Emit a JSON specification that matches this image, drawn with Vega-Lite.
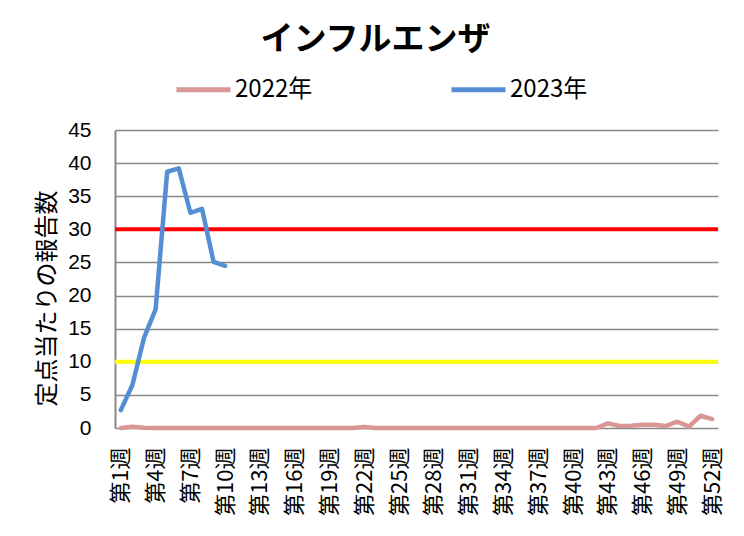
{
  "$schema": "https://vega.github.io/schema/vega-lite/v6.json",
  "width": 603,
  "height": 298,
  "autosize": "none",
  "padding": {"left": 115, "top": 130, "right": 26, "bottom": 108},
  "background": "white",
  "config": {
    "view": {"stroke": null},
    "font": "Liberation Sans, Noto Sans CJK JP",
    "axis": {"labelFont": "Liberation Sans, Noto Sans CJK JP", "titleFont": "Noto Sans CJK JP, Liberation Sans", "labelColor": "#000000", "titleColor": "#000000"},
    "axisY": {
      "grid": true,
      "gridColor": "#888888",
      "gridWidth": 1.5,
      "gridOpacity": 1,
      "domainColor": "#888888",
      "domainWidth": 2,
      "ticks": false,
      "labelFontSize": 21,
      "labelPadding": 24,
      "labelOverlap": false,
      "titleFontSize": 24,
      "titleFontWeight": "normal",
      "titlePadding": 8,
      "titleY": 168
    }
  },
  "title": {
    "text": "インフルエンザ",
    "font": "Noto Sans CJK JP",
    "fontSize": 33,
    "fontWeight": "bold",
    "color": "#000000",
    "anchor": "middle",
    "dx": -41,
    "dy": 17,
    "offset": 20
  },
  "datasets": {
    "flu": [
      {"week": 1, "year": "2022年", "value": 0},
      {"week": 2, "year": "2022年", "value": 0.2},
      {"week": 3, "year": "2022年", "value": 0.05},
      {"week": 4, "year": "2022年", "value": 0},
      {"week": 5, "year": "2022年", "value": 0},
      {"week": 6, "year": "2022年", "value": 0},
      {"week": 7, "year": "2022年", "value": 0},
      {"week": 8, "year": "2022年", "value": 0},
      {"week": 9, "year": "2022年", "value": 0},
      {"week": 10, "year": "2022年", "value": 0},
      {"week": 11, "year": "2022年", "value": 0},
      {"week": 12, "year": "2022年", "value": 0},
      {"week": 13, "year": "2022年", "value": 0},
      {"week": 14, "year": "2022年", "value": 0},
      {"week": 15, "year": "2022年", "value": 0},
      {"week": 16, "year": "2022年", "value": 0},
      {"week": 17, "year": "2022年", "value": 0},
      {"week": 18, "year": "2022年", "value": 0},
      {"week": 19, "year": "2022年", "value": 0},
      {"week": 20, "year": "2022年", "value": 0},
      {"week": 21, "year": "2022年", "value": 0},
      {"week": 22, "year": "2022年", "value": 0.15},
      {"week": 23, "year": "2022年", "value": 0},
      {"week": 24, "year": "2022年", "value": 0},
      {"week": 25, "year": "2022年", "value": 0},
      {"week": 26, "year": "2022年", "value": 0},
      {"week": 27, "year": "2022年", "value": 0},
      {"week": 28, "year": "2022年", "value": 0},
      {"week": 29, "year": "2022年", "value": 0},
      {"week": 30, "year": "2022年", "value": 0},
      {"week": 31, "year": "2022年", "value": 0},
      {"week": 32, "year": "2022年", "value": 0},
      {"week": 33, "year": "2022年", "value": 0},
      {"week": 34, "year": "2022年", "value": 0},
      {"week": 35, "year": "2022年", "value": 0},
      {"week": 36, "year": "2022年", "value": 0},
      {"week": 37, "year": "2022年", "value": 0},
      {"week": 38, "year": "2022年", "value": 0},
      {"week": 39, "year": "2022年", "value": 0},
      {"week": 40, "year": "2022年", "value": 0},
      {"week": 41, "year": "2022年", "value": 0},
      {"week": 42, "year": "2022年", "value": 0},
      {"week": 43, "year": "2022年", "value": 0.7},
      {"week": 44, "year": "2022年", "value": 0.3},
      {"week": 45, "year": "2022年", "value": 0.35},
      {"week": 46, "year": "2022年", "value": 0.5},
      {"week": 47, "year": "2022年", "value": 0.5},
      {"week": 48, "year": "2022年", "value": 0.3},
      {"week": 49, "year": "2022年", "value": 0.95},
      {"week": 50, "year": "2022年", "value": 0.2},
      {"week": 51, "year": "2022年", "value": 1.85},
      {"week": 52, "year": "2022年", "value": 1.35},
      {"week": 1, "year": "2023年", "value": 2.7},
      {"week": 2, "year": "2023年", "value": 6.5},
      {"week": 3, "year": "2023年", "value": 13.6},
      {"week": 4, "year": "2023年", "value": 17.9},
      {"week": 5, "year": "2023年", "value": 38.7},
      {"week": 6, "year": "2023年", "value": 39.2},
      {"week": 7, "year": "2023年", "value": 32.5},
      {"week": 8, "year": "2023年", "value": 33.1},
      {"week": 9, "year": "2023年", "value": 25.1},
      {"week": 10, "year": "2023年", "value": 24.5}
    ]
  },
  "layer": [
    {
      "data": {"name": "flu"},
      "mark": {"type": "line", "opacity": 0},
      "encoding": {
        "x": {
          "field": "week",
          "type": "quantitative",
          "scale": {"domain": [0.5, 52.5], "nice": false, "zero": false},
          "axis": {
            "title": null,
            "values": [1, 4, 7, 10, 13, 16, 19, 22, 25, 28, 31, 34, 37, 40, 43, 46, 49, 52],
            "tickCount": 60,
            "labelExpr": "'第' + datum.value + '週'",
            "labelAngle": -90,
            "labelFontSize": 22,
            "labelPadding": 19,
            "labelFont": "Noto Sans CJK JP",
            "labelOverlap": false,
            "labelBound": false,
            "labelFlush": false,
            "grid": false,
            "ticks": false,
            "domain": false
          }
        },
        "y": {
          "field": "value",
          "type": "quantitative",
          "scale": {"domain": [0, 45], "nice": false},
          "axis": {
            "title": "定点当たりの報告数",
            "values": [0, 5, 10, 15, 20, 25, 30, 35, 40, 45],
            "tickCount": 20
          }
        },
        "detail": {"field": "year", "type": "nominal"}
      }
    },
    {
      "data": {"values": [{}]},
      "mark": {"type": "rule", "color": "#FF0000", "strokeWidth": 4},
      "encoding": {"y": {"datum": 30, "type": "quantitative"}}
    },
    {
      "data": {"values": [{}]},
      "mark": {"type": "rule", "color": "#FFFF00", "strokeWidth": 4},
      "encoding": {"y": {"datum": 10, "type": "quantitative"}}
    },
    {
      "data": {"name": "flu"},
      "mark": {"type": "line", "strokeWidth": 4.5, "strokeJoin": "round", "strokeCap": "round"},
      "encoding": {
        "x": {"field": "week", "type": "quantitative"},
        "y": {"field": "value", "type": "quantitative"},
        "color": {
          "field": "year",
          "type": "nominal",
          "scale": {"domain": ["2022年", "2023年"], "range": ["#D99694", "#558ED5"]},
          "legend": {
            "title": null,
            "orient": "none",
            "direction": "horizontal",
            "legendX": 59,
            "legendY": -70,
            "symbolType": "stroke",
            "symbolSize": 2916,
            "symbolStrokeWidth": 5,
            "labelFontSize": 24,
            "labelFont": "Liberation Sans Narrow, Noto Sans CJK JP",
            "labelOffset": 2,
            "columnPadding": 128,
            "padding": 0
          }
        }
      }
    }
  ]
}
